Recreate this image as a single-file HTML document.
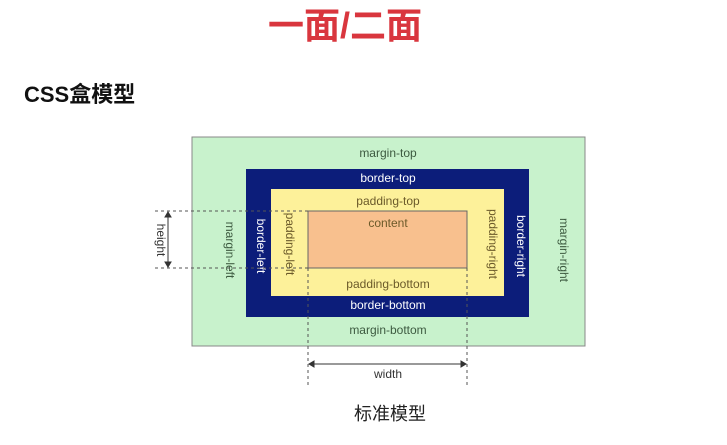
<!DOCTYPE html>
<html><head><meta charset="utf-8"><style>
body{margin:0;width:727px;height:445px;background:#fff;overflow:hidden;position:relative;font-family:"Liberation Sans","Noto Sans CJK SC",sans-serif}
.a{position:absolute}
</style></head><body>
<div class="a" style="left:0;width:690px;top:4px;text-align:center;font-size:36px;font-weight:bold;color:#d9363e;line-height:44px">一面/二面</div>
<div class="a" style="left:24px;top:80px;font-size:22px;font-weight:bold;color:#111;line-height:30px">CSS盒模型</div>
<svg class="a" style="left:0;top:0" width="727" height="445" font-family="Liberation Sans, DejaVu Sans, sans-serif" font-size="12">
<rect x="192" y="137" width="393" height="209" fill="#c8f2cc" stroke="#888"/>
<rect x="246" y="169" width="283" height="148" fill="#0c1d7a"/>
<rect x="271" y="189" width="233" height="107" fill="#fdf19a"/>
<rect x="308" y="211" width="159" height="57" fill="#f8c08e" stroke="#666"/>
<g fill="#3d5a40" text-anchor="middle">
<text x="388" y="157">margin-top</text>
<text x="388" y="334">margin-bottom</text>
<text transform="translate(226,250) rotate(90)">margin-left</text>
<text transform="translate(560,250) rotate(90)">margin-right</text>
</g>
<g fill="#fff" text-anchor="middle">
<text x="388" y="182">border-top</text>
<text x="388" y="309">border-bottom</text>
<text transform="translate(257,246) rotate(90)">border-left</text>
<text transform="translate(517,246) rotate(90)">border-right</text>
</g>
<g fill="#6b5a2a" text-anchor="middle">
<text x="388" y="205">padding-top</text>
<text x="388" y="288">padding-bottom</text>
<text transform="translate(286,244) rotate(90)">padding-left</text>
<text transform="translate(489,244) rotate(90)">padding-right</text>
<text x="388" y="227">content</text>
</g>
<g stroke="#555" stroke-dasharray="3,3" fill="none">
<line x1="155" y1="211" x2="308" y2="211"/>
<line x1="155" y1="268" x2="308" y2="268"/>
<line x1="308" y1="268" x2="308" y2="388"/>
<line x1="467" y1="268" x2="467" y2="388"/>
</g>
<g stroke="#333" fill="#333">
<line x1="168" y1="213" x2="168" y2="266"/>
<path d="M165,217 L168,212 L171,217Z M165,262 L168,267 L171,262Z"/>
<line x1="310" y1="364" x2="465" y2="364"/>
<path d="M314,361 L309,364 L314,367Z M461,361 L466,364 L461,367Z"/>
</g>
<text transform="translate(157,240) rotate(90)" text-anchor="middle" fill="#333">height</text>
<text x="388" y="378" text-anchor="middle" fill="#333">width</text>
</svg>
<div class="a" style="left:0;width:780px;top:400px;text-align:center;font-size:18px;color:#222">标准模型</div>
</body></html>
